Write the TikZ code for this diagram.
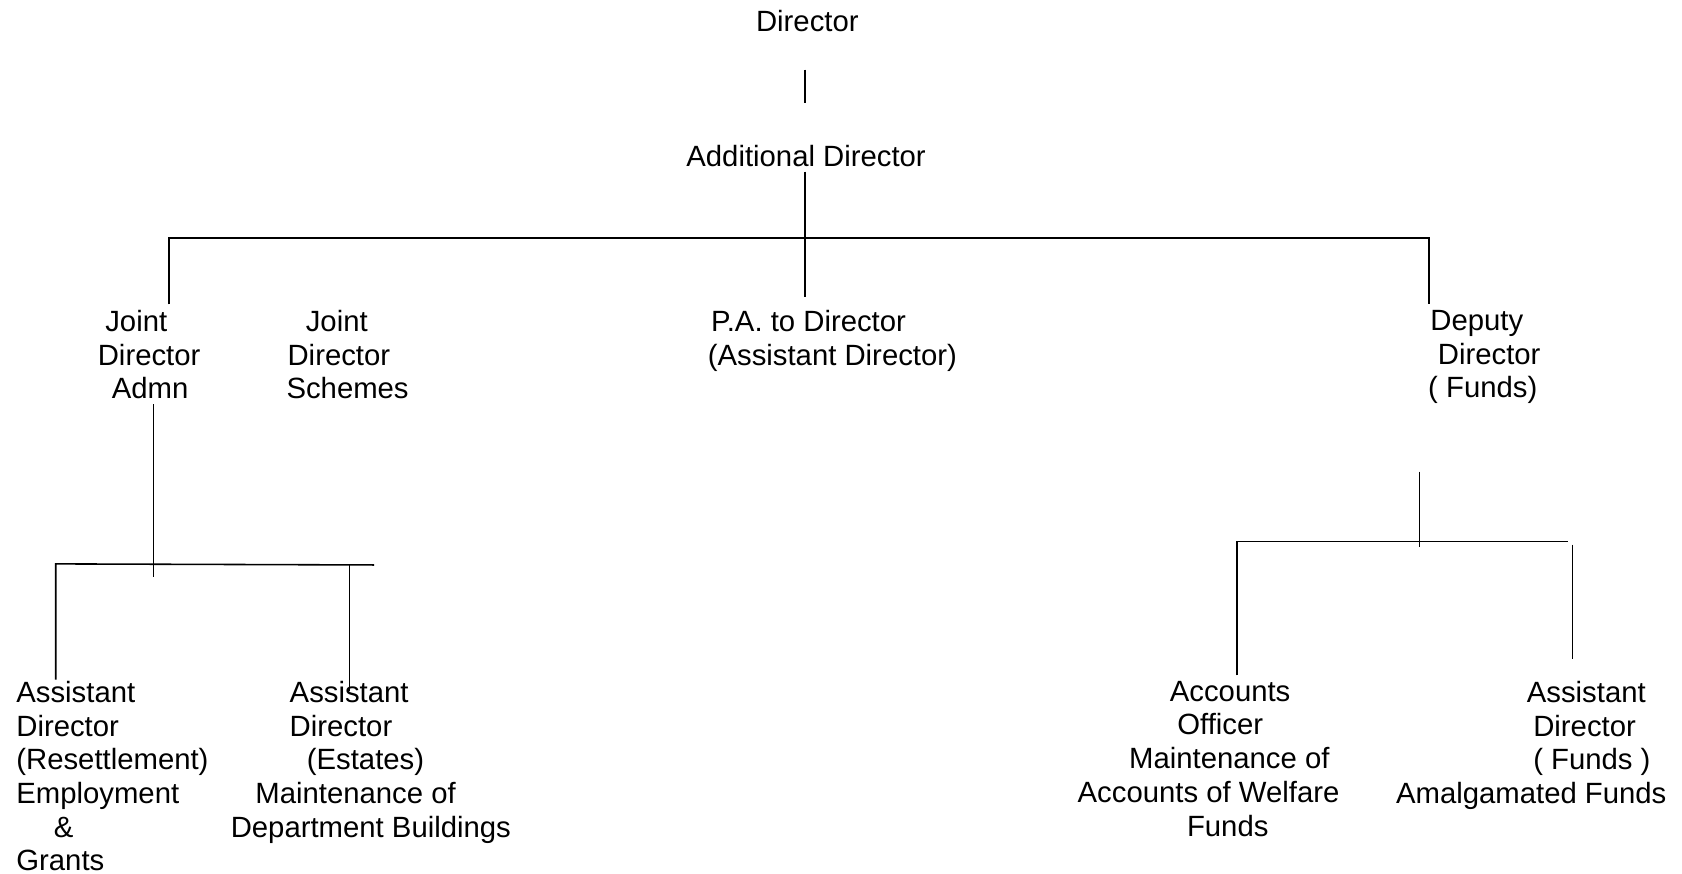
\documentclass[tikz,border=0pt]{standalone}
\usepackage{fontspec}
\setmainfont{Liberation Sans}
\newlength\px
\setlength\px{0.75pt}
\begin{document}
\begin{tikzpicture}[x=0.75pt,y=-0.75pt,
  lbl/.style={anchor=north west,inner sep=0pt,align=left,font=\fontsize{20.5}{23.6}\selectfont},
  conn/.style={line width=1.1pt,line cap=butt}]
\useasboundingbox (0,0) rectangle (1569,815);
% labels
\node[lbl] (dir) at (705,9) {Director};
\node[lbl] (add) at (640,135) {Additional Director};
\node[lbl] (jda) at (91,289) {\hspace*{7\px}Joint\\Director\\\hspace*{13\px}Admn};
\node[lbl] (jds) at (267,289) {\hspace*{18\px}Joint\\\hspace*{1\px}Director\\Schemes};
\node[lbl] (pa) at (660,289) {\hspace*{3\px}P.A. to Director\\(Assistant Director)};
\node[lbl] (dd) at (1332,289) {\hspace*{2\px}Deputy\\\hspace*{9\px}Director\\( Funds)};
\node[lbl] (adr) at (15,635) {Assistant\\Director\\(Resettlement)\\Employment\\\hspace*{35\px}\&\\Grants};
\node[lbl] (ade) at (215,635) {\hspace*{55\px}Assistant\\\hspace*{55\px}Director\\\hspace*{71\px}(Estates)\\\hspace*{23\px}Maintenance of\\Department Buildings};
\node[lbl] (ao) at (1005,635) {\hspace*{86\px}Accounts\\\hspace*{93\px}Officer\\\hspace*{48\px}Maintenance of\\Accounts of Welfare\\\hspace*{102\px}Funds};
\node[lbl] (adf) at (1302,635) {\hspace*{122\px}Assistant\\\hspace*{128\px}Director\\\hspace*{128\px}( Funds )\\Amalgamated Funds};
% connector points
\coordinate (s1a) at (751,65);  \coordinate (s1b) at (751,96);
\coordinate (s2a) at (751,160); \coordinate (s2b) at (751,277);
\coordinate (hL) at (158,222);  \coordinate (hR) at (1333,222);
\coordinate (dL) at (158,284);  \coordinate (dR) at (1333,284);
\coordinate (a1) at (143,377);  \coordinate (a2) at (143,538);
\coordinate (h2L) at (52,526);  \coordinate (h2R) at (349,527);
\coordinate (d2L) at (52,634);
\coordinate (d2R) at (326,645); \coordinate (d2Rt) at (326,527);
\coordinate (f1) at (1324,440); \coordinate (f2) at (1324,510);
\coordinate (h3L) at (1154,505); \coordinate (h3R) at (1463,505);
\coordinate (d3L) at (1154,630);
\coordinate (r1) at (1467,508); \coordinate (r2) at (1467,615);
% connectors
\draw[conn] (s1a) -- (s1b);
\draw[conn] (s2a) -- (s2b);
\draw[conn,line width=1.3pt] (dL) -- (hL) -- (hR) -- (dR);
\draw[conn] (a1) -- (a2);
\draw[conn] (d2L) -- (h2L) -- (h2R);
\draw[conn] (d2Rt) -- (d2R);
\draw[conn] (f1) -- (f2);
\draw[conn] (d3L) -- (h3L) -- (h3R);
\draw[conn] (r1) -- (r2);
\end{tikzpicture}
\end{document}
